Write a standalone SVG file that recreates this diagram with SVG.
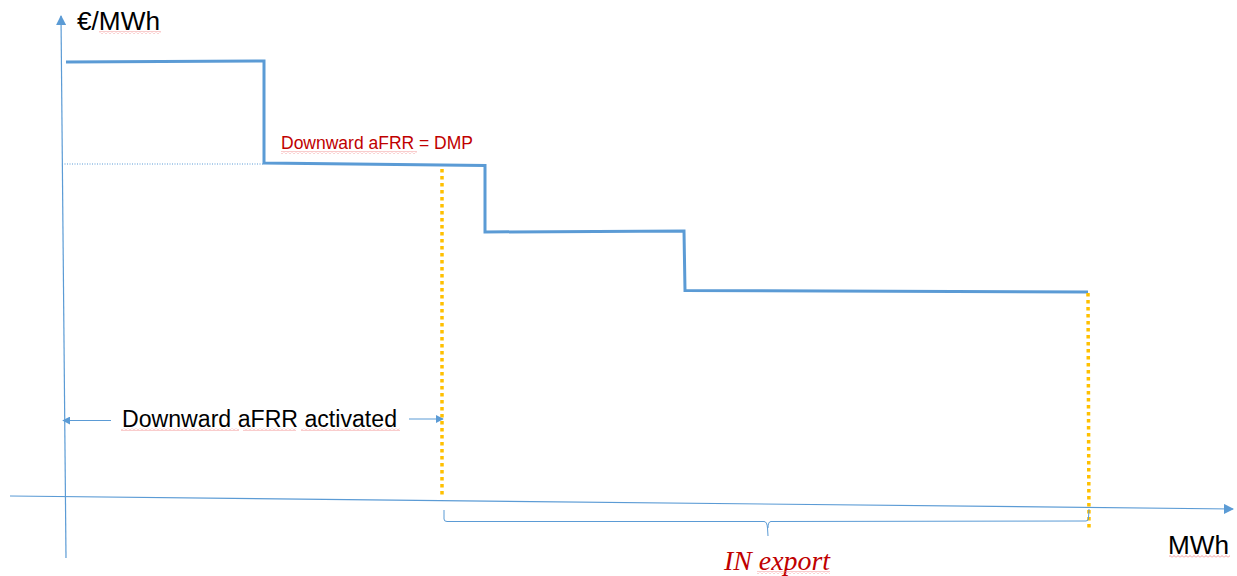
<svg xmlns="http://www.w3.org/2000/svg" width="1237" height="576" viewBox="0 0 1237 576">
<style>
.axis{stroke:#5B9BD5;stroke-width:1.2;fill:none}
.step{stroke:#5B9BD5;stroke-width:3;fill:none;stroke-linejoin:miter}
.dot{stroke:#FFC000;stroke-width:3.5;fill:none;stroke-dasharray:3.5 3.5}
.thin{stroke:#5B9BD5;stroke-width:1;fill:none}
.lbl{font-family:"Liberation Sans",Arial,sans-serif;fill:#000}
.red{font-family:"Liberation Sans",Arial,sans-serif;fill:#C00000}
.it{font-family:"Liberation Serif","Times New Roman",serif;font-style:italic;fill:#C00000}
.sq{fill:url(#squig)}
</style>
<defs>
<marker id="ah" viewBox="0 0 10 10" refX="9" refY="5" markerWidth="8" markerHeight="8" markerUnits="userSpaceOnUse" orient="auto"><path d="M0,0 L10,5 L0,10 z" fill="#5B9BD5"/></marker>
<marker id="ah2" viewBox="0 0 10 10" refX="9" refY="5" markerWidth="10" markerHeight="10" markerUnits="userSpaceOnUse" orient="auto"><path d="M0,0 L10,5 L0,10 z" fill="#5B9BD5"/></marker>
<pattern id="squig" width="4" height="3" patternUnits="userSpaceOnUse"><path d="M0,2.5 L2,0.5 L4,2.5" stroke="#F08080" stroke-width="0.8" fill="none"/></pattern>
</defs>
<rect width="1237" height="576" fill="#fff"/>
<g id="axes">
<line class="axis" x1="66" y1="558" x2="61" y2="16" marker-end="url(#ah2)"/>
<line class="axis" x1="10" y1="496" x2="1233" y2="509" marker-end="url(#ah2)"/>
</g>
<g id="guide">
<line x1="62" y1="164" x2="263" y2="164" stroke="#5B9BD5" stroke-width="1" stroke-dasharray="1 1.5"/>
</g>
<g id="curve">
<path class="step" d="M66,62 L264,61 L264,163 L485,165.5 L485,232 L684,231 L685,290.5 L1088,292"/>
</g>
<g id="markers">
<line class="dot" x1="442" y1="169" x2="442" y2="498"/>
<line class="dot" x1="1088" y1="293" x2="1089" y2="528"/>
</g>
<g id="connectors">
<line class="thin" x1="111" y1="420.5" x2="63" y2="420.5" marker-end="url(#ah)"/>
<line class="thin" x1="409" y1="419" x2="443" y2="419" marker-end="url(#ah)"/>
<path class="thin" d="M444,510 L444,519 Q444,521.5 447,521.5 L764,521.5 Q767,521.5 767.5,528 L768,536 M768,528 Q768,521.5 771,521.5 L1086,521 Q1088.5,521 1088.5,518 L1089,509"/>
</g>
<g id="labels">
<text class="lbl" x="77" y="30" font-size="25" textLength="83" lengthAdjust="spacingAndGlyphs">€/MWh</text>
<text class="red" x="281" y="149" font-size="17.5" textLength="192" lengthAdjust="spacingAndGlyphs">Downward aFRR = DMP</text>
<text class="lbl" x="122" y="427" font-size="23" textLength="275" lengthAdjust="spacingAndGlyphs">Downward aFRR activated</text>
<text class="it" x="724" y="570" font-size="27" textLength="106" lengthAdjust="spacingAndGlyphs">IN export</text>
<text class="lbl" x="1168" y="554" font-size="25" textLength="61" lengthAdjust="spacingAndGlyphs">MWh</text>
</g>
<g id="spellcheck">
<rect class="sq" x="99" y="31" width="62" height="3"/>
<rect class="sq" x="281" y="151" width="136" height="3"/>
<rect class="sq" x="121" y="428" width="118" height="3"/>
<rect class="sq" x="243" y="428" width="53" height="3"/>
<rect class="sq" x="301" y="428" width="99" height="3"/>
<rect class="sq" x="757" y="571" width="73" height="3"/>
<rect class="sq" x="1169" y="555" width="61" height="3"/>
</g>
</svg>
